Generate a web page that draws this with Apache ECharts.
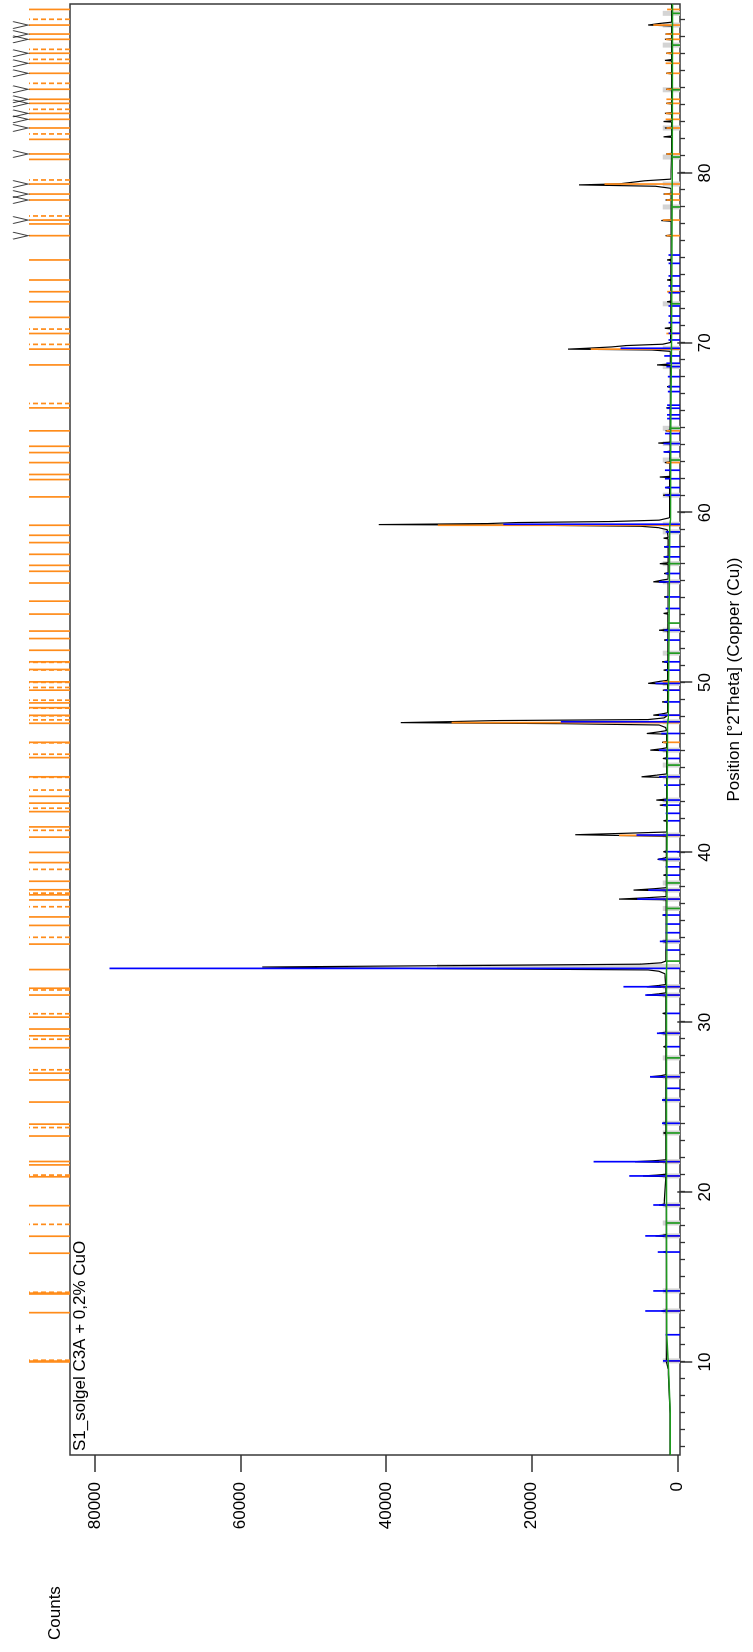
<!DOCTYPE html>
<html>
<head>
<meta charset="utf-8">
<script src="https://cdn.jsdelivr.net/npm/echarts@6/dist/echarts.min.js"></script>
<style>
  html, body { margin: 0; padding: 0; background: #fff; width: 753px; height: 1652px; overflow: hidden; }
  /* the diffractogram is laid out landscape and turned a quarter turn counter-clockwise */
  #chart { position: absolute; left: 0; top: 0; width: 1652px; height: 753px;
           transform-origin: 0 0; transform: translate(0px, 1652px) rotate(-90deg); }
</style>
</head>
<body>
<div id="chart"></div>
<script>
// ---- axis ranges and tick labels ----
const THETA_MIN = 4.52, THETA_MAX = 89.95;
const COUNT_MIN = -370, COUNT_MAX = 83420;
const thetaTicks = [10, 20, 30, 40, 50, 60, 70, 80];
const thetaMinorTicks = [5,6,7,8,9,10,11,12,13,14,15,16,17,18,19,20,21,22,23,24,25,26,27,28,29,30,
  31,32,33,34,35,36,37,38,39,40,41,42,43,44,45,46,47,48,49,50,51,52,53,54,55,56,57,58,59,60,
  61,62,63,64,65,66,67,68,69,70,71,72,73,74,75,76,77,78,79,80,81,82,83,84,85,86,87,88,89];
const countTicks = [0, 20000, 40000, 60000, 80000];

// ---- measured scan: [2theta, counts] ----
const observed = [
  [4.52,1000],[6.95,1000],[7.0,1250],[9.6,1250],[9.65,1500],
  [10.02,1500],[10.06,1750],[10.1,1500],
  [11.56,1520],[11.6,1750],[11.64,1520],
  [12.96,1520],[13.0,2200],[13.05,1520],
  [14.14,1520],[14.18,1900],[14.22,1520],
  [16.43,1520],[16.47,1900],[16.51,1520],
  [17.38,1520],[17.42,3000],[17.46,2000],[17.5,1520],
  [19.2,1550],[19.24,2500],[19.29,1800],[19.33,1550],
  [20.91,1560],[20.95,4700],[21.0,2900],[21.05,1560],
  [21.75,1560],[21.79,5800],[21.84,3400],[21.9,1560],
  [23.44,1560],[23.48,1900],[23.52,1560],
  [24.01,1560],[24.05,2000],[24.09,1560],
  [25.38,1560],[25.42,2100],[25.46,1560],
  [26.75,1560],[26.79,3700],[26.85,2300],[26.91,1560],
  [28.52,1560],[28.56,1900],[28.6,1560],
  [29.31,1560],[29.35,2500],[29.41,1560],
  [30.48,1560],[30.52,2000],[30.56,1560],
  [31.56,1560],[31.6,4200],[31.67,2600],[31.73,1560],
  [32.05,1560],[32.09,4200],[32.16,2600],[32.22,1600],
  [32.85,1700],[33.0,2500],[33.08,4000],[33.15,30000],[33.2,49000],[33.25,57000],[33.3,42000],[33.35,25000],[33.42,5000],[33.5,2200],[33.6,1600],
  [34.72,1550],[34.76,2100],[34.8,1550],
  [35.24,1550],[35.27,1800],[35.31,1550],
  [36.27,1550],[36.31,2000],[36.35,1550],
  [37.21,1550],[37.25,8000],[37.33,4200],[37.4,1550],
  [37.74,1550],[37.78,6000],[37.86,3200],[37.92,1550],
  [38.63,1520],[38.66,1900],[38.7,1520],
  [39.55,1500],[39.59,2700],[39.66,1800],[39.72,1500],
  [40.0,1500],[40.04,1900],[40.08,1500],
  [40.95,1500],[41.04,14000],[41.12,7500],[41.2,1500],
  [41.83,1480],[41.86,1900],[41.9,1480],
  [42.74,1480],[42.78,2400],[42.83,1480],
  [43.04,1480],[43.08,2900],[43.14,1480],
  [44.41,1480],[44.45,4900],[44.55,2800],[44.62,1480],
  [45.5,1470],[45.53,2000],[45.57,1470],
  [45.98,1460],[46.02,3700],[46.1,2200],[46.16,1460],
  [46.45,1460],[46.48,2100],[46.52,1460],
  [46.96,1460],[47.0,4200],[47.1,2500],[47.17,1460],
  [47.35,1600],[47.5,2500],[47.58,16000],[47.64,38000],[47.7,31000],[47.76,25000],[47.82,4000],[47.92,1800],
  [48.04,1400],[48.08,3300],[48.16,2000],[48.22,1350],
  [48.82,1350],[48.86,2100],[48.9,1350],
  [49.52,1350],[49.55,2000],[49.59,1350],
  [49.91,1350],[49.95,4000],[50.07,2400],[50.13,1350],
  [50.7,1340],[50.73,1900],[50.77,1340],
  [51.18,1330],[51.22,2100],[51.26,1330],
  [52.47,1310],[52.5,1800],[52.54,1310],
  [53.04,1300],[53.08,2500],[53.13,1300],
  [54.03,1300],[54.07,1900],[54.11,1300],
  [55.0,1280],[55.04,1800],[55.08,1280],
  [55.89,1280],[55.93,3300],[56.03,2100],[56.09,1280],
  [56.39,1270],[56.42,1800],[56.46,1270],
  [56.96,1260],[57.0,2400],[57.05,1260],
  [57.37,1260],[57.4,1900],[57.44,1260],
  [57.96,1250],[57.99,1800],[58.03,1250],
  [58.46,1250],[58.5,1900],[58.54,1250],
  [59.0,1400],[59.12,2600],[59.2,5000],[59.26,19000],[59.3,41000],[59.36,26000],[59.42,22000],[59.48,9000],[59.56,2500],[59.7,1100],
  [61.0,1060],[61.03,1950],[61.07,1060],
  [61.45,1060],[61.48,1600],[61.52,1060],
  [62.07,1050],[62.1,2400],[62.14,1050],
  [62.92,1040],[62.95,1700],[62.99,1040],
  [63.55,1030],[63.58,1800],[63.62,1030],
  [64.06,1000],[64.1,2600],[64.15,1000],
  [64.79,990],[64.82,1600],[64.86,990],
  [66.14,980],[66.17,1500],[66.21,980],
  [67.39,970],[67.42,1400],[67.46,970],
  [68.66,950],[68.7,2800],[68.76,950],
  [69.5,1000],[69.58,3500],[69.63,15000],[69.68,12500],[69.76,9000],[69.84,7000],[69.92,2000],[70.02,950],
  [70.82,930],[70.86,1700],[70.9,930],
  [72.39,900],[72.42,1400],[72.46,900],
  [73.67,890],[73.7,1400],[73.74,890],
  [74.85,880],[74.88,1400],[74.92,880],
  [76.28,860],[76.31,1600],[76.35,860],
  [77.16,850],[77.2,2200],[77.25,850],
  [78.38,850],[78.41,1600],[78.45,850],
  [78.73,850],[78.76,1900],[78.8,850],
  [79.1,900],[79.22,3000],[79.3,13500],[79.36,8000],[79.45,7900],[79.54,4500],[79.64,900],
  [81.09,800],[81.12,1500],[81.16,800],
  [82.1,800],[82.13,1900],[82.18,800],
  [82.62,800],[82.65,1700],[82.69,800],
  [83.0,800],[83.03,1900],[83.08,800],
  [83.48,800],[83.51,1700],[83.55,800],
  [84.07,790],[84.1,1500],[84.14,790],
  [84.9,790],[84.93,1500],[84.97,790],
  [85.84,790],[85.87,1500],[85.91,790],
  [86.6,780],[86.63,1700],[86.68,780],
  [87.02,780],[87.05,1500],[87.09,780],
  [87.84,780],[87.87,1700],[87.91,780],
  [88.15,780],[88.18,1600],[88.22,780],
  [88.66,780],[88.71,4000],[88.8,2500],[88.88,780],
  [89.95,780]
];

// ---- fitted background ----
const background = [
  [4.52,960],[7.0,960],[7.0,1200],[9.6,1200],[9.6,1400],[11.6,1450],[20,1500],[30,1480],[33,1500],
  [33.6,1450],[40,1400],[47.5,1350],[47.9,1250],[55,1100],[59.2,1050],[59.6,950],[65,900],[70,800],[80,700],[89.95,650]
];

// ---- reference pattern sticks: [2theta, counts] ----
const blueSticks = [
  [10.06,1960],[11.6,1600],[13.0,4400],[14.18,3300],[16.47,2700],[17.42,4400],[19.24,3300],[20.95,6600],
  [21.79,11500],[24.05,2100],[25.42,2100],[26.11,1600],[26.79,3750],[28.56,1600],[29.35,2800],[30.52,1600],
  [31.6,4400],[32.09,7400],[33.17,78000],[34.25,1600],[34.76,2400],[35.27,1600],[35.78,1600],[36.31,2000],
  [37.25,5500],[37.78,4000],[38.66,1600],[39.15,1600],[39.59,2600],[40.04,1600],[41.02,5600],[41.86,1300],
  [42.3,1600],[42.78,2000],[43.08,1800],[43.96,1800],[44.45,2500],[45.53,1600],[46.02,2500],[47.0,2200],
  [47.69,16000],[48.08,2500],[48.86,1800],[49.55,1800],[49.95,3000],[50.73,1600],[51.22,1800],[52.5,1600],
  [53.08,1800],[54.36,1600],[55.04,1600],[55.93,2500],[56.42,1600],[57.4,1800],[57.99,1800],[58.87,1600],
  [59.32,23900],[61.03,1700],[61.48,1700],[62.0,1700],[62.5,1700],[63.58,1900],[64.07,1900],[64.66,1700],
  [65.54,1400],[65.76,1400],[66.15,1400],[66.33,1400],[67.13,1300],[67.42,1300],[68.01,1300],[68.6,1500],
  [68.8,1500],[69.23,1800],[69.68,7800],[70.17,1200],[70.56,1200],[71.19,1200],[71.58,1200],[72.17,1200],
  [72.95,1200],[73.35,1200],[73.94,1200],[74.68,1200],[75.17,1200]
];
const orangeSticks = [
  [10.05,1700],[13.0,1700],[17.42,1800],[19.24,1800],[20.95,2000],[21.79,2500],[26.79,2000],[29.35,1800],
  [31.6,2200],[32.09,2200],[37.25,3000],[37.78,2300],[41.0,8000],[44.45,2200],[46.48,2000],[47.64,31000],
  [48.07,2200],[49.55,1800],[50.04,2000],[55.93,1600],[59.26,32900],[62.95,1500],[64.82,1500],[69.63,11900],
  [70.55,1500],[73.01,1400],[76.31,1500],[77.23,2000],[78.41,1500],[78.76,1800],[79.35,10000],[81.12,1500],
  [82.65,1500],[83.16,1600],[83.51,1600],[84.1,1500],[84.34,1500],[84.93,1500],[85.87,1500],[86.46,1600],
  [87.05,1500],[87.87,1600],[88.18,1600],[88.71,3300],[89.63,1400]
];
const greenSticks = [
  [18.18,1550],[23.48,1550],[27.9,1550],[33.6,1550],[36.7,1550],[38.2,1550],[45.14,1450],[51.73,1400],
  [53.5,1350],[57.0,1300],[58.87,1300],[63.1,1100],[64.97,1100],[72.3,900],[78.0,850],[80.94,800],
  [84.9,800],[87.53,750],[89.4,750]
];
const graySticks = [
  [10.06,2000],[13.0,2000],[14.18,2000],[17.42,2000],[18.18,2000],[19.24,2000],[20.95,2000],[21.79,2000],
  [23.48,2000],[24.05,2000],[25.42,2000],[26.79,2000],[27.9,2000],[29.35,2000],[31.6,2000],[32.09,2000],
  [33.28,33000],[34.76,2000],[36.7,2000],[37.25,2000],[37.78,2000],[38.2,2000],[39.59,2000],[41.02,2000],
  [43.08,2000],[44.45,2000],[45.14,2000],[46.02,2000],[47.69,2000],[49.95,2000],[51.73,2000],[53.08,2000],
  [55.93,2000],[57.0,2000],[58.87,2000],[59.32,2000],[61.03,2000],[63.1,2000],[64.07,2000],[64.97,2000],
  [68.6,2000],[69.68,2000],[72.3,2000],[78.0,2000],[79.35,2000],[80.94,2000],[82.65,2000],[84.9,2000],
  [87.53,2000],[88.71,2000],[89.4,2000]
];

// ---- peak list strip above the plot (2theta) ----
const stripSolid = [
  10.0,10.05,12.9,14.0,14.05,16.4,17.4,19.2,20.9,21.6,21.8,23.3,24.0,25.3,26.6,27.0,28.5,29.2,29.6,30.3,
  31.6,32.0,33.1,34.6,35.7,36.2,37.2,37.5,37.8,38.3,39.4,40.0,40.9,41.5,42.4,42.9,43.3,
  44.45,45.58,46.48,47.6,48.07,48.52,48.8,49.55,50.04,50.77,51.22,51.9,52.59,53.03,54.03,54.79,55.86,56.55,
  56.9,57.55,58.24,58.67,59.26,60.93,61.95,62.25,62.95,63.54,63.91,64.82,66.17,68.7,69.63,70.55,71.5,72.42,
  73.01,73.7,74.88,76.31,77.0,77.23,78.41,78.76,79.35,80.8,81.12,81.98,82.65,83.16,83.51,84.1,84.34,84.93,
  85.87,86.46,87.05,87.87,88.18,88.71,89.63
];
const stripDashed = [
  10.1,14.1,18.1,21.0,23.8,27.2,29.0,30.5,31.9,35.0,36.8,37.6,39.0,41.3,42.6,
  43.67,44.42,45.78,46.45,47.8,48.04,48.49,48.96,49.71,50.01,50.74,51.19,66.43,69.91,70.81,
  77.47,79.59,82.3,83.75,85.28,86.69,87.28,89.05
];
const peakMarks = [
  76.31,77.23,78.41,78.76,79.35,81.12,82.65,83.16,83.51,84.1,84.34,84.93,85.87,86.46,87.05,87.87,88.18,88.71
];

const ORANGE = '#ff8c1a', BLUE = '#0000ff', GREEN = '#1f9a1f', GRAY = '#d4d4d4';
const FONT = "'Liberation Sans', Arial, sans-serif";
const FONT_SIZE = 17;
const STRIP_LINE = 41, STRIP_MARK = 49.5, STRIP_TOP = 57;

function stickSeries(name, data, color, width, z) {
  return {
    type: 'custom', name, z, silent: true,
    xAxisIndex: 0, yAxisIndex: 0,
    data,
    renderItem(params, api) {
      const top = api.coord([api.value(0), api.value(1)]);
      const base = api.coord([api.value(0), COUNT_MIN]);
      return { type: 'line', shape: { x1: top[0], y1: base[1], x2: top[0], y2: top[1] },
               style: { stroke: color, lineWidth: width } };
    }
  };
}
function stripSeries(name, list, dash) {
  return {
    type: 'custom', name, silent: true, xAxisIndex: 2, yAxisIndex: 1,
    data: list.map(t => [t, 0]),
    renderItem(params, api) {
      const a = api.coord([api.value(0), 0]);
      const b = api.coord([api.value(0), STRIP_LINE]);
      return { type: 'line', shape: { x1: a[0], y1: a[1], x2: b[0], y2: b[1] },
               style: { stroke: ORANGE, lineWidth: 1.7, lineDash: dash } };
    }
  };
}

const textStyle = { fontFamily: FONT, fontSize: FONT_SIZE, color: '#000' };

const option = {
  animation: false,
  backgroundColor: '#fff',
  grid: [
    { left: 197, right: 4, top: 70, bottom: 73, show: true, borderColor: '#3a3a3a', borderWidth: 1.5, backgroundColor: '#fff' },
    { left: 197, right: 4, top: 13, height: STRIP_TOP }
  ],
  xAxis: [
    { type: 'value', gridIndex: 0, min: THETA_MIN, max: THETA_MAX, position: 'bottom',
      axisLine: { show: false }, splitLine: { show: false },
      axisTick: { show: true, customValues: thetaTicks, length: 15, lineStyle: { color: '#333', width: 1.5 } },
      axisLabel: Object.assign({ customValues: thetaTicks, margin: 17 }, textStyle),
      name: 'Position [°2Theta] (Copper (Cu))', nameLocation: 'middle', nameGap: 46,
      nameTextStyle: Object.assign({ padding: [0, 0, 0, 100] }, textStyle) },
    { type: 'value', gridIndex: 0, min: THETA_MIN, max: THETA_MAX, position: 'bottom',
      axisLine: { show: false }, splitLine: { show: false }, axisLabel: { show: false },
      axisTick: { show: true, customValues: thetaMinorTicks, length: 5, lineStyle: { color: '#333', width: 1.3 } } },
    { type: 'value', gridIndex: 1, min: THETA_MIN, max: THETA_MAX, show: false }
  ],
  yAxis: [
    { type: 'value', gridIndex: 0, min: COUNT_MIN, max: COUNT_MAX,
      axisLine: { show: false }, splitLine: { show: false },
      axisTick: { show: true, customValues: countTicks, length: 17, lineStyle: { color: '#333', width: 1.5 } },
      axisLabel: Object.assign({ customValues: countTicks, margin: 27, formatter: v => String(v) }, textStyle) },
    { type: 'value', gridIndex: 1, min: 0, max: STRIP_TOP, show: false }
  ],
  graphic: [
    { type: 'text', left: 12, top: 47, style: { text: 'Counts', font: FONT_SIZE + 'px ' + FONT, fill: '#000' } },
    { type: 'text', left: 201, top: 72, style: { text: 'S1_solgel C3A + 0,2% CuO', font: FONT_SIZE + 'px ' + FONT, fill: '#000' } }
  ],
  series: [
    stickSeries('gray', graySticks, GRAY, 5, 1),
    { type: 'line', name: 'observed', data: observed, xAxisIndex: 0, yAxisIndex: 0, z: 2,
      showSymbol: false, silent: true, lineStyle: { color: '#000', width: 1.2 } },
    stickSeries('orange', orangeSticks, ORANGE, 1.7, 3),
    stickSeries('green', greenSticks, GREEN, 1.7, 3),
    stickSeries('blue', blueSticks, BLUE, 1.7, 4),
    { type: 'line', name: 'background', data: background, xAxisIndex: 0, yAxisIndex: 0, z: 5,
      showSymbol: false, silent: true, lineStyle: { color: GREEN, width: 1.5 } },
    stripSeries('strip solid', stripSolid, null),
    stripSeries('strip dashed', stripDashed, [5, 3]),
    { type: 'scatter', name: 'marks', xAxisIndex: 2, yAxisIndex: 1, silent: true,
      data: peakMarks.map(t => [t, STRIP_MARK]),
      symbol: 'path://M0,0L5,10L10,0', symbolSize: [7, 15],
      itemStyle: { color: 'none', borderColor: '#111', borderWidth: 1.3 } }
  ]
};

const chart = echarts.init(document.getElementById('chart'), null, { renderer: 'canvas' });
chart.setOption(option);
</script>
</body>
</html>
